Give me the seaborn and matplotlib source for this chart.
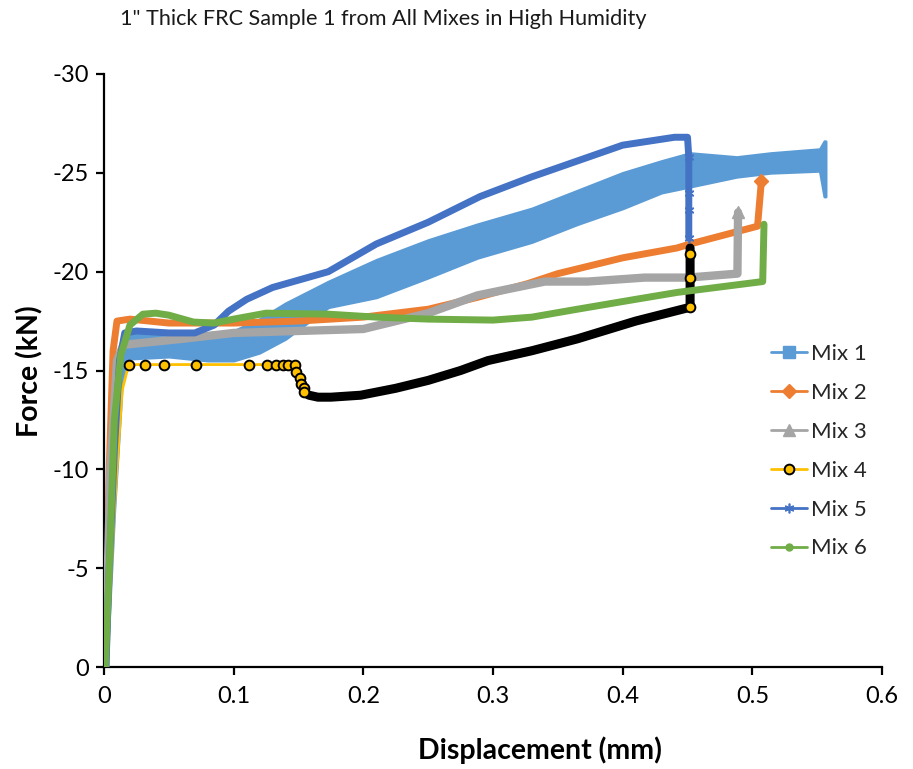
import numpy as np
import matplotlib
matplotlib.use("Agg")
import matplotlib.pyplot as plt
import seaborn as sns
from matplotlib.lines import Line2D

# ---------------- data ----------------
title = '1" Thick FRC Sample 1 from All Mixes in High Humidity'
x_ticks = [0, 0.1, 0.2, 0.3, 0.4, 0.5, 0.6]
x_tick_labels = ["0", "0.1", "0.2", "0.3", "0.4", "0.5", "0.6"]
y_ticks = [0, -5, -10, -15, -20, -25, -30]
y_tick_labels = ["0", "-5", "-10", "-15", "-20", "-25", "-30"]
labels = ["Mix 1", "Mix 2", "Mix 3", "Mix 4", "Mix 5", "Mix 6"]

# Mix 1 is a wide noisy band: upper / lower envelope
mix1_x = [0.002, 0.008, 0.014, 0.02, 0.05, 0.08, 0.10, 0.12, 0.14, 0.173, 0.21, 0.25,
          0.288, 0.33, 0.365, 0.40, 0.43, 0.452, 0.488, 0.514, 0.552, 0.5555, 0.5565]
mix1_upper = [0, -10, -16.5, -17.0, -16.9, -16.9, -17.0, -17.6, -18.4, -19.5, -20.6, -21.6,
              -22.4, -23.2, -24.1, -25.0, -25.6, -26.0, -25.8, -26.0, -26.2, -26.6, -26.6]
mix1_lower = [0, -8, -14.5, -15.6, -15.7, -15.5, -15.5, -15.9, -16.6, -18.2, -18.7, -19.7,
              -20.7, -21.5, -22.4, -23.2, -24.0, -24.3, -24.8, -25.0, -25.1, -23.8, -23.8]

mix2_x = [0.001, 0.004, 0.007, 0.01, 0.02, 0.05, 0.1, 0.15, 0.2, 0.25, 0.288, 0.327,
          0.35, 0.4, 0.442, 0.452, 0.504, 0.507]
mix2_y = [0, -10, -16, -17.5, -17.6, -17.4, -17.4, -17.5, -17.7, -18.1, -18.7, -19.4,
          -19.9, -20.7, -21.2, -21.4, -22.3, -24.6]

mix3_x = [0.001, 0.005, 0.01, 0.015, 0.03, 0.06, 0.1, 0.15, 0.2, 0.25, 0.288, 0.34,
          0.373, 0.417, 0.45, 0.4885, 0.489]
mix3_y = [0, -10, -15.5, -16.3, -16.4, -16.6, -16.9, -17.0, -17.1, -17.9, -18.8, -19.5,
          -19.5, -19.7, -19.7, -19.9, -23.0]

mix4_x = [0.002, 0.008, 0.014, 0.019, 0.032, 0.046, 0.071, 0.112, 0.1255, 0.133, 0.138,
          0.142, 0.147, 0.148, 0.1515, 0.152, 0.154, 0.1545, 0.158, 0.165, 0.175, 0.198,
          0.225, 0.25, 0.275, 0.296, 0.33, 0.365, 0.41, 0.452, 0.452, 0.452, 0.452]
mix4_y = [0, -8, -14, -15.3, -15.3, -15.3, -15.3, -15.3, -15.3, -15.3, -15.3,
          -15.3, -15.3, -14.9, -14.6, -14.3, -14.1, -13.9, -13.75, -13.65, -13.65, -13.75,
          -14.1, -14.5, -15.0, -15.5, -16.0, -16.6, -17.5, -18.2, -19.7, -20.9, -21.2]

mix5_x = [0.0015, 0.004, 0.008, 0.012, 0.016, 0.025, 0.05, 0.07, 0.085, 0.096, 0.11,
          0.13, 0.173, 0.21, 0.25, 0.29, 0.33, 0.365, 0.40, 0.44, 0.45, 0.451, 0.451,
          0.451, 0.451]
mix5_y = [0, -5, -11, -15.5, -16.9, -17.0, -16.9, -16.9, -17.3, -18.0, -18.6,
          -19.2, -20.0, -21.4, -22.5, -23.8, -24.8, -25.6, -26.4, -26.8, -26.8, -25.8, -24.0,
          -23.1, -21.7]

mix6_x = [0.001, 0.004, 0.008, 0.013, 0.02, 0.03, 0.04, 0.05, 0.069, 0.085, 0.1, 0.125,
          0.173, 0.21, 0.25, 0.3, 0.33, 0.365, 0.41, 0.442, 0.508, 0.509]
mix6_y = [0, -5, -12.5, -15.8, -17.3, -17.85, -17.9, -17.8, -17.45, -17.4, -17.6, -17.9,
          -17.85, -17.7, -17.6, -17.55, -17.7, -18.1, -18.6, -18.95, -19.5, -22.4]

C1, C2, C3, C4, C5, C6 = "#5B9BD5", "#ED7D31", "#A5A5A5", "#FFC000", "#4472C4", "#70AD47"

# ---------------- figure ----------------
sns.set_theme(style="white")
plt.rcParams['font.family'] = ['Lato', 'DejaVu Sans']

fig = plt.figure(figsize=(9.13, 7.69), dpi=100)
ax = fig.add_axes([104 / 913, 1 - 667 / 769, (882 - 104) / 913, (667 - 74) / 769])

# Mix 1 band
ax.fill_between(mix1_x, mix1_upper, mix1_lower, color=C1, linewidth=2, edgecolor=C1, zorder=1)

sns.lineplot(x=mix2_x, y=mix2_y, sort=False, estimator=None, color=C2, linewidth=5,
             ax=ax, zorder=2)
ax.plot([mix2_x[-1]], [mix2_y[-1]], marker="D", color=C2, markersize=7, zorder=2)

sns.lineplot(x=mix3_x, y=mix3_y, sort=False, estimator=None, color=C3, linewidth=6,
             ax=ax, zorder=3)
ax.plot([mix3_x[-1]], [mix3_y[-1]], marker="^", color=C3, markersize=8, zorder=3)

# Mix 4: gold line, dense black region, sparse markers
sns.lineplot(x=mix4_x, y=mix4_y, sort=False, estimator=None, color=C4, linewidth=2,
             ax=ax, zorder=4)
sns.lineplot(x=mix4_x[17:], y=mix4_y[17:], sort=False, estimator=None, color="black",
             linewidth=6.5, ax=ax, zorder=4)
mk = list(range(3, 18)) + [29, 30, 31]
ax.plot([mix4_x[i] for i in mk], [mix4_y[i] for i in mk], linestyle="none", marker="o",
        markerfacecolor=C4, markeredgecolor="black", markeredgewidth=1.4, markersize=7,
        zorder=4.5)

sns.lineplot(x=mix5_x, y=mix5_y, sort=False, estimator=None, color=C5, linewidth=5,
             ax=ax, zorder=5)
ax.plot(mix5_x[-4:], mix5_y[-4:], linestyle="none", marker=(6, 2, 0), color=C5,
        markersize=7, markeredgewidth=1.2, zorder=5)

sns.lineplot(x=mix6_x, y=mix6_y, sort=False, estimator=None, color=C6, linewidth=5,
             ax=ax, zorder=6)

ax.set_xlim(0, 0.6)
ax.set_ylim(0, -30)
ax.set_xticks(x_ticks)
ax.set_xticklabels(x_tick_labels)
ax.set_yticks(y_ticks)
ax.set_yticklabels(y_tick_labels)
ax.set_xlabel("")
ax.set_ylabel("")
for s in ["top", "right"]:
    ax.spines[s].set_visible(False)
for s in ["left", "bottom"]:
    ax.spines[s].set_color("black")
    ax.spines[s].set_linewidth(1.6)
ax.tick_params(axis="both", direction="out", length=6, width=1.6, colors="black",
               labelsize=17, bottom=True, left=True)
ax.tick_params(axis="x", pad=8)
ax.tick_params(axis="y", pad=5)

fig.text(120 / 913, 1 - 19 / 769, title, ha="left", va="center", fontsize=15.6,
         color="#1a1a1a")
fig.text(540 / 913, 1 - 750 / 769, "Displacement (mm)", ha="center", va="center",
         fontsize=20.5, fontweight="bold", color="black")
fig.text(30 / 913, 1 - 371 / 769, "Force (kN)", ha="center", va="center", rotation=90,
         fontsize=20.5, fontweight="bold", color="black")

handles = [
    Line2D([], [], color=C1, lw=2, marker="s", markersize=9),
    Line2D([], [], color=C2, lw=2, marker="D", markersize=7),
    Line2D([], [], color=C3, lw=2, marker="^", markersize=8),
    Line2D([], [], color=C4, lw=2, marker="o", markerfacecolor=C4,
           markeredgecolor="black", markeredgewidth=1.4, markersize=7),
    Line2D([], [], color=C5, lw=2, marker=(6, 2, 0), markersize=7, markeredgewidth=1.2),
    Line2D([], [], color=C6, lw=2, marker="o", markersize=5),
]
ax.legend(handles, labels, loc="upper left", bbox_to_anchor=(771 / 913, 1 - 344 / 769),
          bbox_transform=fig.transFigure, frameon=False, fontsize=16,
          handlelength=1.6, handletextpad=0.22, labelspacing=0.85, borderpad=0,
          borderaxespad=0)

fig.savefig("out.png", dpi=100)
